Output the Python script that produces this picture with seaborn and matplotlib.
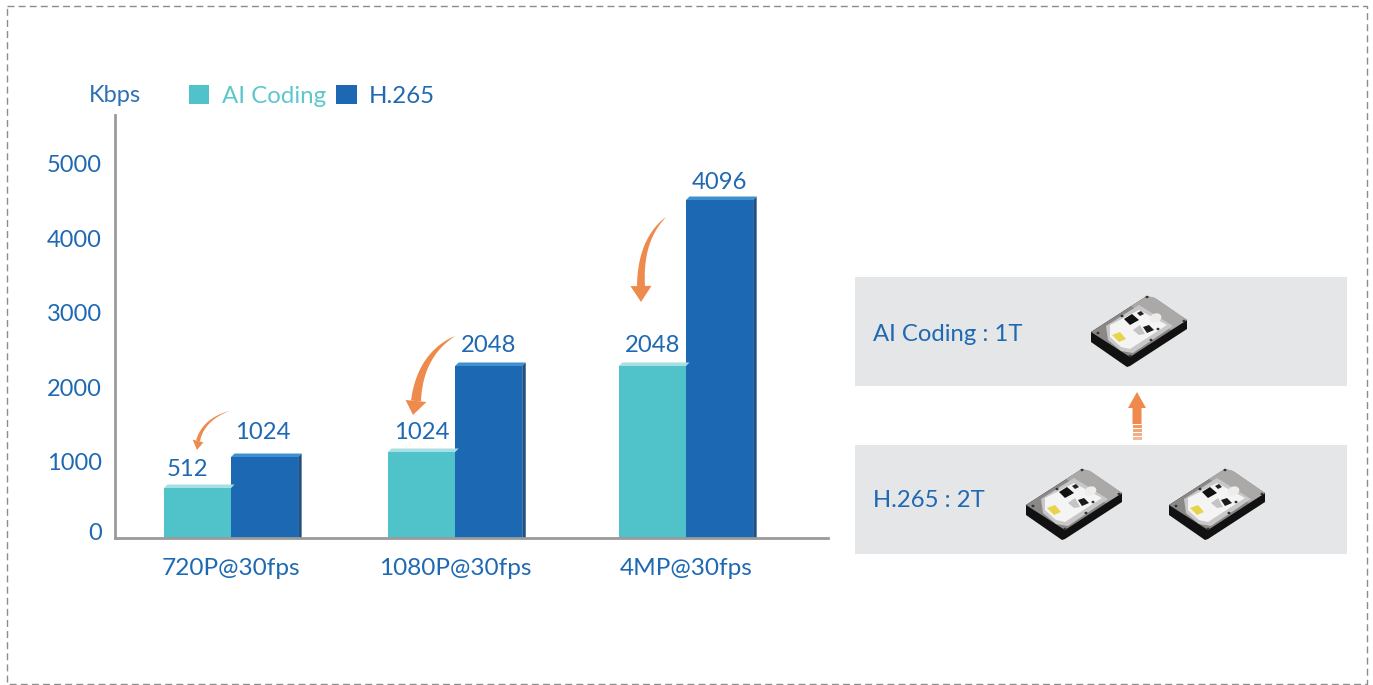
import numpy as np
import pandas as pd
import matplotlib
matplotlib.use('Agg')
import matplotlib.pyplot as plt
import seaborn as sns
from matplotlib.patches import Rectangle, Polygon, Ellipse
from matplotlib.transforms import ScaledTranslation

# resolutions and codecs
resolutions = ['720P@30fps', '1080P@30fps', '4MP@30fps']
codecs = ['AI Coding', 'H.265']

# bar heights read against the y axis (the drawn bars do not follow their printed labels)
ai_heights = [671, 1154, 2309]
h265_heights = [1087, 2309, 4537]

# printed value labels
ai_labels = ['512', '1024', '2048']
h265_labels = ['1024', '2048', '4096']

y_ticks = [0, 1000, 2000, 3000, 4000, 5000]

W, H = 1373, 685
TEAL = '#50C3CA'
BLUE = '#1D68B2'
ORANGE = '#EE8A4C'
TEXT = '#1F69B3'

sns.set_style('white')
plt.rcParams['font.family'] = ['Lato', 'DejaVu Sans']

df = pd.DataFrame({
    'resolution': resolutions * 2,
    'codec': [codecs[0]] * 3 + [codecs[1]] * 3,
    'height': ai_heights + h265_heights,
})

fig = plt.figure(figsize=(W / 100, H / 100), dpi=100)
ax = fig.add_axes([115 / W, (H - 538) / H, 713 / W, 423 / H])
ax.patch.set_alpha(0)

sns.barplot(data=df, x='resolution', y='height', hue='codec', palette=[TEAL, BLUE],
            width=0.59, gap=0, saturation=1, linewidth=0, ax=ax)

ax.set_xlim(-0.51, 2.624)
ax.set_ylim(0, 423 / 0.0745)
ax.set_xlabel('')
ax.set_ylabel('')
ax.set_yticks(y_ticks)
# the middle group sits slightly left of an even spacing
ax.set_xticks([0, 0.985, 2], resolutions)
ax.tick_params(axis='both', length=0, labelcolor=TEXT)
ax.tick_params(axis='y', labelsize=17, pad=9.5)
ax.tick_params(axis='x', labelsize=17.6, pad=14.7)
sns.despine(ax=ax)
for side in ['left', 'bottom']:
    ax.spines[side].set_color('#9B9B9B')
    ax.spines[side].set_linewidth(2)

# the printed tick labels sit a bit above their ticks
for i, lab in enumerate(ax.get_yticklabels()):
    shift = 5 if i == 0 else 1.3
    lab.set_transform(lab.get_transform() + ScaledTranslation(0, shift / 72, fig.dpi_scale_trans))

# legend
handles, labels = ax.get_legend_handles_labels()
ax.get_legend().remove()
leg = fig.legend(handles, labels, ncol=2, loc='center left', bbox_to_anchor=(189 / W, 1 - 96 / H),
                 frameon=False, fontsize=17.3, handlelength=0.85, handleheight=0.85,
                 handletextpad=0.52, columnspacing=0.42, borderpad=0, borderaxespad=0)
leg.get_texts()[0].set_color('#5CC8CC')
leg.get_texts()[1].set_color(TEXT)

# fake 3D edges and value labels
dx = 3.5 / 227.5
dy = 3.5 / 0.0745
label_pads = [[6, 6.5, 7.5], [10, 7.5, 5]]
for cont, labs, pads, top_col in zip(ax.containers, [ai_labels, h265_labels], label_pads,
                                     ['#A8DFE2', '#3E90CF']):
    cont[1].set_x(cont[1].get_x() - 0.015)
    for bar in cont:
        x0, x1 = bar.get_x(), bar.get_x() + bar.get_width()
        h = bar.get_height()
        ax.add_patch(Polygon([(x0, h), (x0 + dx, h + dy), (x1 + dx, h + dy), (x1, h)],
                             color=top_col, lw=0, zorder=1.5))
        if top_col == '#3E90CF':
            ax.add_patch(Polygon([(x1, 0), (x1 + dx, 0), (x1 + dx, h + dy), (x1, h)],
                                 color='#1B5088', lw=0, zorder=1.5))
    texts = ax.bar_label(cont, labels=labs, padding=5, color=TEXT, fontsize=17.2)
    for t, p in zip(texts, pads):
        t.xyann = (t.xyann[0], p)
    if labs is ai_labels:
        texts[0].xyann = (-7, texts[0].xyann[1])
    else:
        texts[0].xyann = (-1.5, texts[0].xyann[1])

# overlay in pixel coordinates for everything around the chart
ov = fig.add_axes([0, 0, 1, 1], zorder=5)
ov.set_xlim(0, W)
ov.set_ylim(H, 0)
ov.axis('off')

ov.add_patch(Rectangle((7, 6), 1360, 678, fill=False, ec='#8C8C8C', lw=1, ls=(0, (5, 3))))
ov.add_patch(Rectangle((855, 277), 492, 109, color='#E5E6E8', lw=0))
ov.add_patch(Rectangle((855, 445), 492, 109, color='#E5E6E8', lw=0))
ov.text(873, 334, 'AI Coding : 1T', color=TEXT, fontsize=17.2, va='center')
ov.text(873, 500, 'H.265 : 2T', color=TEXT, fontsize=17.2, va='center')
ov.text(89, 95, 'Kbps', color='#2E71B5', fontsize=17, va='center')


def curved_arrow(tail, ctrl, base, tip, body_w, head_w):
    # body is a quadratic curve that widens from the tail, head is a plain triangle
    s = np.linspace(0, 1, 40)[:, None]
    p0, p1, p2 = np.array(tail, float), np.array(ctrl, float), np.array(base, float)
    curve = (1 - s) ** 2 * p0 + 2 * s * (1 - s) * p1 + s ** 2 * p2
    tang = np.gradient(curve, axis=0)
    norm = np.c_[-tang[:, 1], tang[:, 0]] / np.linalg.norm(tang, axis=1, keepdims=True)
    half = body_w / 2 * s ** 0.8
    left, right = curve + norm * half, curve - norm * half
    ov.add_patch(Polygon(np.vstack([left, right[::-1]]), color=ORANGE, lw=0))
    n = norm[-1] * head_w / 2
    ov.add_patch(Polygon([p2 + n, np.array(tip, float), p2 - n], color=ORANGE, lw=0))


curved_arrow((229, 411), (203, 420), (198, 441), (197, 450), 4, 11)
curved_arrow((455, 336), (420, 355), (416, 401), (413, 415), 10, 21)
curved_arrow((666, 217), (640, 240), (641, 286), (641, 302), 8, 21)

# up arrow with striped tail
ov.add_patch(Polygon([(1137, 392), (1146, 408), (1141.5, 408), (1141.5, 424), (1132.5, 424),
                      (1132.5, 408), (1128, 408)], color=ORANGE, lw=0))
for y, a in zip([425, 429, 433, 437], [0.85, 0.75, 0.7, 0.6]):
    ov.add_patch(Rectangle((1132.5, y), 9, 3, color=ORANGE, alpha=a, lw=0))


def drive(ox, oy):
    # ox, oy is the left corner of the top plate
    def P(pts):
        return [(ox + a, oy + b) for a, b in pts]
    ov.add_patch(Polygon(P([(0, 0), (56, -36), (96, -12), (96, -3), (39, 34), (36, 35), (0, 10)]),
                         color='#111111', lw=0))
    ov.add_patch(Polygon(P([(0, 0), (56, -36), (64, -34), (96, -12), (39, 25)]),
                         color='#8A8787', lw=0))
    ov.add_patch(Polygon(P([(40, -26), (56, -36), (64, -34), (96, -12), (80, -2)]),
                         color='#ABA8A8', lw=0))
    ov.add_patch(Polygon(P([(15, -6), (48, -27), (82, -6), (42, 21), (30, 19), (17, 8)]),
                         color='#C9C7C7', lw=0))
    ov.add_patch(Polygon(P([(19, -7), (48, -22), (76, -7), (39, 17), (30, 15), (19, 5)]),
                         color='#F4F4F4', lw=0))
    ov.add_patch(Polygon(P([(33, -13), (41, -18), (48, -12), (39, -7)]), color='#111111', lw=0))
    ov.add_patch(Polygon(P([(46, -19), (50, -21), (53, -18), (49, -16)]), color='#222222', lw=0))
    ov.add_patch(Polygon(P([(52, -5), (58, -7), (63, -2), (56, 1)]), color='#1A1A1A', lw=0))
    ov.add_patch(Polygon(P([(42, -2), (49, -7), (54, 2), (48, 3)]), color='#C4C4C4', lw=0))
    ov.add_patch(Polygon(P([(21, 3), (29, 0), (35, 7), (28, 10)]), color='#E8D44A', lw=0))
    ov.add_patch(Ellipse((ox + 64.5, oy - 14), 12, 9, angle=-20, color='#EDEDED', lw=0))
    for a, b in [(7, 1), (31, -16), (56, -35), (93, -11), (67, -3), (39, 24), (60, 8)]:
        ov.add_patch(Ellipse((ox + a, oy + b), 3, 2.5, color='#333333', lw=0))


for pos in [(1091, 332), (1026, 505), (1169, 505)]:
    drive(*pos)

fig.savefig('out.png', dpi=100)
